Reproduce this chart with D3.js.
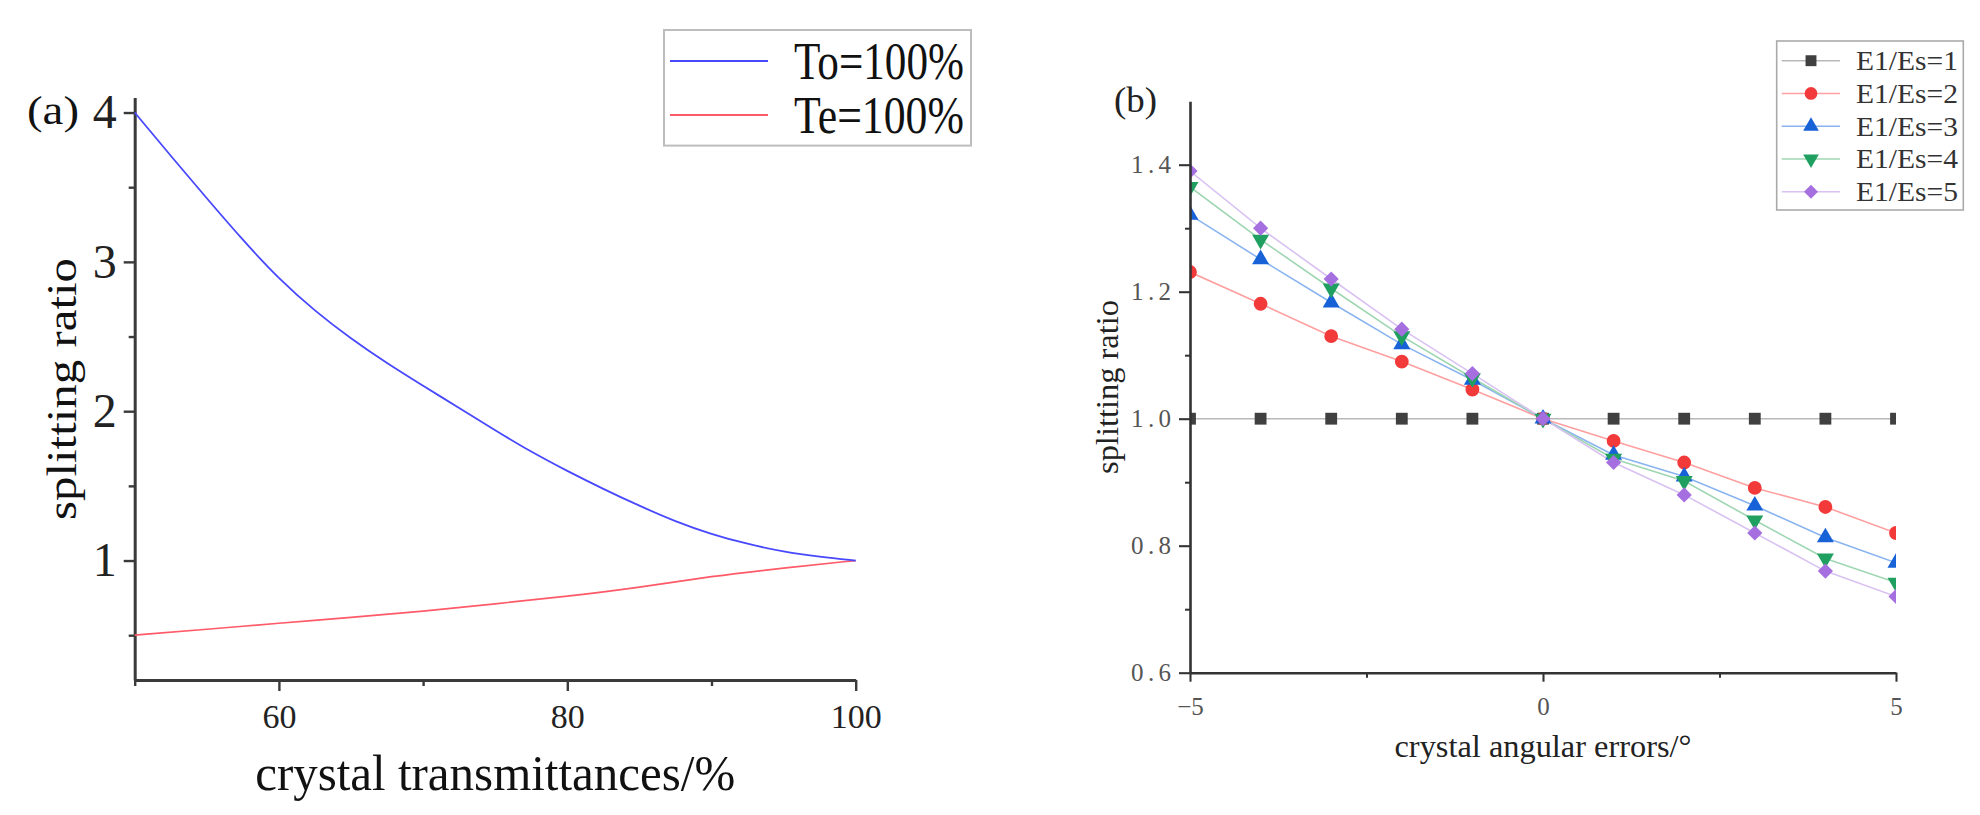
<!DOCTYPE html>
<html>
<head>
<meta charset="utf-8">
<script src="https://cdn.jsdelivr.net/npm/d3@7"></script>
<style>
  html, body { margin: 0; padding: 0; background: #fff; }
  svg { display: block; }
  text { font-family: "Liberation Serif", "Times New Roman", serif; }
</style>
</head>
<body>
<svg id="chart" width="1980" height="815"></svg>
<script>
// ---------- Panel (a) data ----------
const transBlueX = [50, 52.5, 55, 57.5, 60, 62.5, 65, 67.5, 70, 72.5, 75, 77.5, 80, 82.5, 85, 87.5, 90, 92.5, 95, 97.5, 100];
const toValues   = [4.0, 3.71, 3.425, 3.145, 2.885, 2.67, 2.485, 2.32, 2.17, 2.022, 1.872, 1.727, 1.599, 1.479, 1.366, 1.261, 1.176, 1.11, 1.059, 1.025, 1.0];
const transRedX  = [50, 55, 60, 65, 70, 75, 80, 85, 90, 95, 100];
const teValues   = [0.50, 0.54, 0.58, 0.62, 0.66, 0.71, 0.76, 0.82, 0.895, 0.95, 1.0];
const legendA    = ["To=100%", "Te=100%"];
const xTicksA    = [60, 80, 100];
const xMinorA    = [50, 70, 90];
const yTicksA    = [1, 2, 3, 4];
const yMinorA    = [0.5, 1.5, 2.5, 3.5];

// ---------- Panel (b) data ----------
const angles = [-5, -4, -3, -2, -1, 0, 1, 2, 3, 4, 5];
const ratio1 = [1.0, 1.0, 1.0, 1.0, 1.0, 1.0, 1.0, 1.0, 1.0, 1.0, 1.0];
const ratio2 = [1.231, 1.181, 1.130, 1.090, 1.046, 1.0, 0.965, 0.931, 0.891, 0.861, 0.820];
const ratio3 = [1.321, 1.251, 1.183, 1.117, 1.061, 1.0, 0.943, 0.909, 0.863, 0.813, 0.773];
const ratio4 = [1.365, 1.282, 1.205, 1.130, 1.064, 1.0, 0.937, 0.902, 0.840, 0.780, 0.742];
const ratio5 = [1.390, 1.300, 1.220, 1.141, 1.071, 1.0, 0.931, 0.880, 0.820, 0.760, 0.720];
const seriesNames = ["E1/Es=1", "E1/Es=2", "E1/Es=3", "E1/Es=4", "E1/Es=5"];
const xTicksB = [-5, 0, 5];
const xMinorB = [-2.5, 2.5];
const yTicksB = [0.6, 0.8, 1.0, 1.2, 1.4];
const yMinorB = [0.7, 0.9, 1.1, 1.3];

const svg = d3.select("#chart");
const axisColor = "#3a3a3a";

// =============== PANEL (a) ===============
const xA = d3.scaleLinear().domain([50, 100]).range([134.7, 855.7]);
const yA = d3.scaleLinear().domain([0.2, 4.1]).range([680, 97.6]);
const gA = svg.append("g");

function styleAxis(g, color, width) {
  g.select(".domain").attr("stroke", color).attr("stroke-width", width);
  g.selectAll(".tick line").attr("stroke", color).attr("stroke-width", width * 0.8);
}

// y axis (a)
const yAxA = gA.append("g").attr("transform", `translate(${xA(50)},0)`)
  .call(d3.axisLeft(yA).tickValues(yTicksA).tickSize(11).tickSizeOuter(0).tickPadding(7).tickFormat(d3.format("d")));
styleAxis(yAxA, axisColor, 3);
yAxA.selectAll("text").attr("font-size", 48).attr("fill", "#222").attr("font-family", "Liberation Serif");
gA.append("g").attr("transform", `translate(${xA(50)},0)`)
  .call(d3.axisLeft(yA).tickValues(yMinorA).tickSize(6).tickFormat(""))
  .call(g => { g.select(".domain").remove(); g.selectAll(".tick line").attr("stroke", axisColor).attr("stroke-width", 2.4); });

// x axis (a)
const xAxA = gA.append("g").attr("transform", `translate(0,${yA(0.2)})`)
  .call(d3.axisBottom(xA).tickValues(xTicksA).tickSize(11).tickSizeOuter(0).tickPadding(13).tickFormat(d3.format("d")));
styleAxis(xAxA, axisColor, 3);
xAxA.selectAll("text").attr("font-size", 34).attr("fill", "#222").attr("font-family", "Liberation Serif");
gA.append("g").attr("transform", `translate(0,${yA(0.2)})`)
  .call(d3.axisBottom(xA).tickValues(xMinorA).tickSize(6).tickFormat(""))
  .call(g => { g.select(".domain").remove(); g.selectAll(".tick line").attr("stroke", axisColor).attr("stroke-width", 2.4); });

// curves (a)
const lineA = d3.line().curve(d3.curveBasis).x(d => xA(d[0])).y(d => yA(d[1]));
gA.append("path").datum(transRedX.map((x, i) => [x, teValues[i]]))
  .attr("d", lineA).attr("fill", "none").attr("stroke", "#ff5a68").attr("stroke-width", 1.7);
gA.append("path").datum(transBlueX.map((x, i) => [x, toValues[i]]))
  .attr("d", lineA).attr("fill", "none").attr("stroke", "#4848ff").attr("stroke-width", 1.8);

// titles (a)
gA.append("text").attr("x", (xA(50) + xA(100)) / 2).attr("y", 790)
  .attr("text-anchor", "middle").attr("font-size", 50).attr("fill", "#111")
  .attr("textLength", 480).attr("lengthAdjust", "spacingAndGlyphs")
  .text("crystal transmittances/%");
gA.append("text").attr("transform", `translate(75.6,${389}) rotate(-90)`)
  .attr("text-anchor", "middle").attr("font-size", 42).attr("fill", "#111")
  .attr("textLength", 262).attr("lengthAdjust", "spacingAndGlyphs")
  .text("splitting ratio");
gA.append("text").attr("x", 27).attr("y", 124).attr("font-size", 40).attr("fill", "#111")
  .attr("textLength", 52).attr("lengthAdjust", "spacingAndGlyphs").text("(a)");

// legend (a)
const legA = gA.append("g");
legA.append("rect").attr("x", 664).attr("y", 30).attr("width", 307).attr("height", 115.6)
  .attr("fill", "#fff").attr("stroke", "#bdbdbd").attr("stroke-width", 2);
const legAColors = ["#4848ff", "#ff5a68"];
const legARows = [61, 115];
legendA.forEach((name, i) => {
  legA.append("line").attr("x1", 670).attr("x2", 768).attr("y1", legARows[i]).attr("y2", legARows[i])
    .attr("stroke", legAColors[i]).attr("stroke-width", 2);
  legA.append("text").attr("x", 794).attr("y", legARows[i] + 18).attr("font-size", 52).attr("fill", "#111")
    .attr("textLength", 170).attr("lengthAdjust", "spacingAndGlyphs").text(name);
});

// =============== PANEL (b) ===============
const xB = d3.scaleLinear().domain([-5, 5]).range([1190, 1896]);
const yB = d3.scaleLinear().domain([0.6, 1.5]).range([672.7, 101.2]);
const gB = svg.append("g");

svg.append("defs").append("clipPath").attr("id", "clipB")
  .append("rect").attr("x", xB(-5)).attr("y", yB(1.5) - 10)
  .attr("width", xB(5) - xB(-5)).attr("height", yB(0.6) - yB(1.5) + 10);

const markerColors = ["#404040", "#f23a3a", "#1862d8", "#20a060", "#a66fe0"];
const lineColors   = ["#b8b8b8", "#ff9f9f", "#8ab4f0", "#9fd6b2", "#d9c2f2"];
const allSeries = [ratio1, ratio2, ratio3, ratio4, ratio5];
const symbolDefs = [
  { type: d3.symbolSquare, size: 140, rot: 0 },
  { type: d3.symbolCircle, size: 150, rot: 0 },
  { type: d3.symbolTriangle, size: 125, rot: 0 },
  { type: d3.symbolTriangle, size: 125, rot: 180 },
  { type: d3.symbolSquare, size: 115, rot: 45 }
];

const plotB = gB.append("g").attr("clip-path", "url(#clipB)");
const lineB = d3.line().x((d, i) => xB(angles[i])).y(d => yB(d));
allSeries.forEach((vals, s) => {
  plotB.append("path").datum(vals).attr("d", lineB).attr("fill", "none")
    .attr("stroke", lineColors[s]).attr("stroke-width", 1.6);
});
allSeries.forEach((vals, s) => {
  const sym = d3.symbol().type(symbolDefs[s].type).size(symbolDefs[s].size);
  plotB.selectAll(null).data(vals).enter().append("path")
    .attr("d", sym)
    .attr("transform", (d, i) => `translate(${xB(angles[i])},${yB(d)}) rotate(${symbolDefs[s].rot})`)
    .attr("fill", markerColors[s]);
});

// axes (b)
const yAxB = gB.append("g").attr("transform", `translate(${xB(-5)},0)`)
  .call(d3.axisLeft(yB).tickValues(yTicksB).tickSize(11).tickSizeOuter(0).tickPadding(8).tickFormat(d3.format(".1f")));
styleAxis(yAxB, "#333", 2.6);
yAxB.selectAll("text").attr("font-size", 25).attr("fill", "#555").attr("font-family", "Liberation Serif")
  .attr("textLength", 40).attr("lengthAdjust", "spacing");
gB.append("g").attr("transform", `translate(${xB(-5)},0)`)
  .call(d3.axisLeft(yB).tickValues(yMinorB).tickSize(5).tickFormat(""))
  .call(g => { g.select(".domain").remove(); g.selectAll(".tick line").attr("stroke", "#333").attr("stroke-width", 2); });

const xAxB = gB.append("g").attr("transform", `translate(0,${yB(0.6)})`)
  .call(d3.axisBottom(xB).tickValues(xTicksB).tickSize(9).tickSizeOuter(0).tickPadding(16).tickFormat(d => d < 0 ? "\u2212" + Math.abs(d) : String(d)));
styleAxis(xAxB, "#333", 2.6);
xAxB.selectAll("text").attr("font-size", 25).attr("fill", "#555").attr("font-family", "Liberation Serif");
gB.append("g").attr("transform", `translate(0,${yB(0.6)})`)
  .call(d3.axisBottom(xB).tickValues(xMinorB).tickSize(5).tickFormat(""))
  .call(g => { g.select(".domain").remove(); g.selectAll(".tick line").attr("stroke", "#333").attr("stroke-width", 2); });

// titles (b)
gB.append("text").attr("x", xB(0)).attr("y", 757).attr("text-anchor", "middle")
  .attr("font-size", 31).attr("fill", "#222")
  .attr("textLength", 297).attr("lengthAdjust", "spacingAndGlyphs")
  .text("crystal angular errors/°");
gB.append("text").attr("transform", `translate(1118,387) rotate(-90)`)
  .attr("text-anchor", "middle").attr("font-size", 31).attr("fill", "#222")
  .attr("textLength", 174).attr("lengthAdjust", "spacingAndGlyphs")
  .text("splitting ratio");
gB.append("text").attr("x", 1114).attr("y", 112).attr("font-size", 35).attr("fill", "#222")
  .attr("textLength", 43).attr("lengthAdjust", "spacingAndGlyphs").text("(b)");

// legend (b)
const legB = gB.append("g");
legB.append("rect").attr("x", 1776.7).attr("y", 41).attr("width", 186.6).attr("height", 169)
  .attr("fill", "#fff").attr("stroke", "#aaa").attr("stroke-width", 1.6);
seriesNames.forEach((name, s) => {
  const cy = 60.7 + s * 32.75;
  legB.append("line").attr("x1", 1781.7).attr("x2", 1840).attr("y1", cy).attr("y2", cy)
    .attr("stroke", lineColors[s]).attr("stroke-width", 1.6);
  legB.append("path")
    .attr("d", d3.symbol().type(symbolDefs[s].type).size(symbolDefs[s].size * 0.85)())
    .attr("transform", `translate(1811,${cy}) rotate(${symbolDefs[s].rot})`)
    .attr("fill", markerColors[s]);
  legB.append("text").attr("x", 1856).attr("y", cy + 9.5).attr("font-size", 28).attr("fill", "#333")
    .attr("textLength", 102).attr("lengthAdjust", "spacingAndGlyphs").text(name);
});
</script>
</body>
</html>
